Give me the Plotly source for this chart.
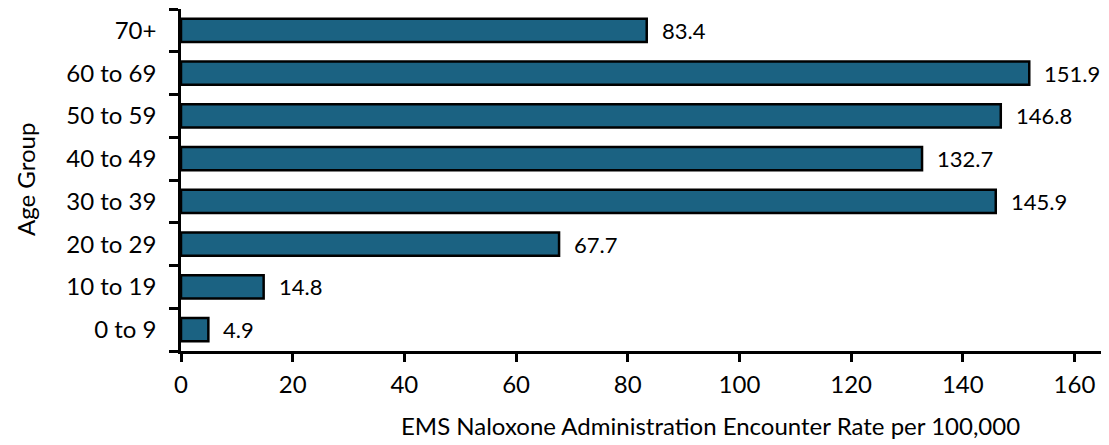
import plotly.graph_objects as go

categories = ["0 to 9", "10 to 19", "20 to 29", "30 to 39", "40 to 49", "50 to 59", "60 to 69", "70+"]
values = [4.9, 14.8, 67.7, 145.9, 132.7, 146.8, 151.9, 83.4]
x_ticks = [0, 20, 40, 60, 80, 100, 120, 140, 160]

FONT = "Lato"
FS = 24

# page body has an 8px margin; compensate so the figure lands where the reference does
OFF = 8
W, H = 1109 - OFF, 445 - OFF
L, R, T, B = 181 - OFF, 1108 - OFF, 9 - OFF, 351 - OFF

fig = go.Figure()
fig.add_trace(go.Bar(
    x=values, y=categories, orientation="h",
    marker=dict(color="#1B6282", line=dict(color="black", width=2.5)),
    hoverinfo="skip",
))

for c, v in zip(categories, values):
    fig.add_annotation(x=v, y=c, text=f"{v:.1f}", showarrow=False,
                       xanchor="left", xshift=13, font=dict(family=FONT, size=22, color="black"))

fig.add_annotation(x=(710 - OFF - L) / (R - L), y=-(425 - OFF - B) / (B - T), xref="paper", yref="paper",
                   text="EMS Naloxone Administration Encounter Rate per 100,000",
                   showarrow=False, xanchor="center", yanchor="middle",
                   font=dict(family=FONT, size=FS, color="black"))
fig.add_annotation(x=-(L - (25 - OFF)) / (R - L), y=0.5, xref="paper", yref="paper",
                   text="Age Group", textangle=-90,
                   showarrow=False, xanchor="center", yanchor="middle",
                   font=dict(family=FONT, size=FS, color="black"))

fig.update_layout(
    width=W, height=H,
    margin=dict(l=L, r=W - R, t=T, b=H - B, autoexpand=False),
    paper_bgcolor="white", plot_bgcolor="white",
    bargap=0.46,
    showlegend=False,
    font=dict(family=FONT, size=FS, color="black"),
)

fig.update_xaxes(range=[0, 166], tickvals=x_ticks, showgrid=False, zeroline=False,
                 showline=True, linecolor="black", linewidth=2.5,
                 ticks="outside", ticklen=8, tickwidth=2.5, tickcolor="black",
                 tickfont=dict(family=FONT, size=FS), ticklabelstandoff=2,
                 automargin=False, fixedrange=True)
fig.update_yaxes(categoryorder="array", categoryarray=categories, range=[-0.5, 7.5],
                 tickson="boundaries", showgrid=False, zeroline=False,
                 showline=True, linecolor="black", linewidth=2.5,
                 ticks="outside", ticklen=9, tickwidth=2.5, tickcolor="black",
                 tickfont=dict(family=FONT, size=FS), ticklabelstandoff=17,
                 automargin=False, fixedrange=True)

fig.write_html("out.html")
